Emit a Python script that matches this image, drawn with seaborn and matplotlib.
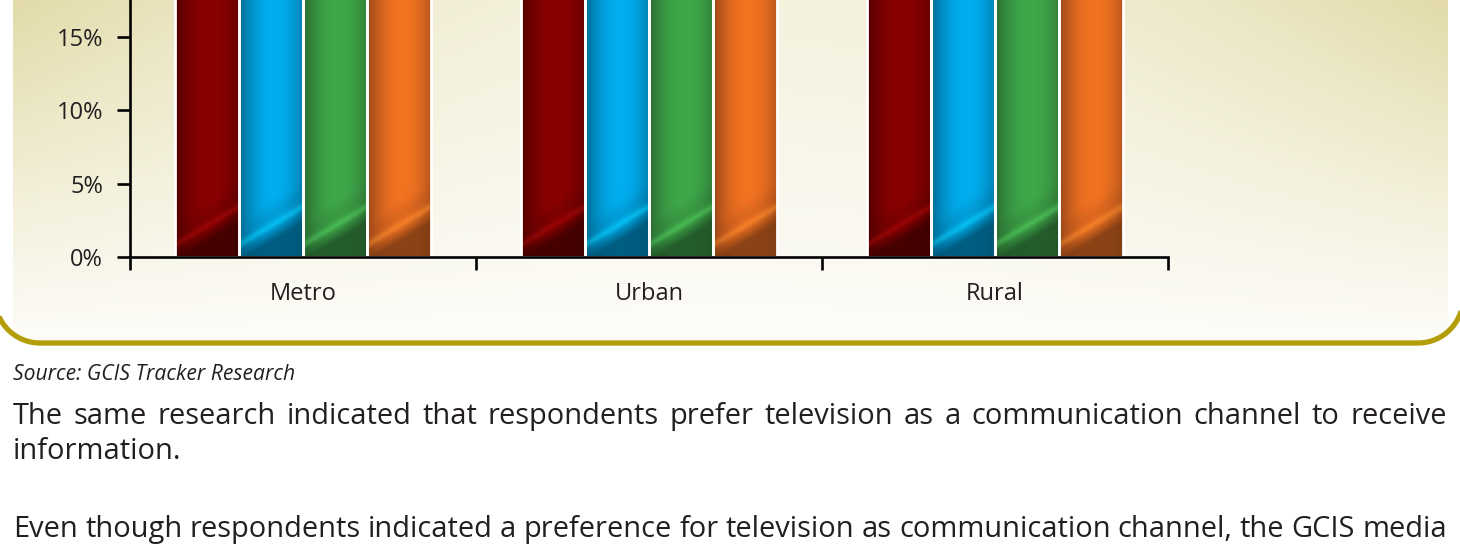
import numpy as np
import pandas as pd
import matplotlib
matplotlib.use("Agg")
import matplotlib.pyplot as plt
import seaborn as sns
from matplotlib.patches import Polygon
from matplotlib.colors import to_rgb

# ---------------- data ----------------
categories = ["Metro", "Urban", "Rural"]
series = ["Series 1", "Series 2", "Series 3", "Series 4"]
series1 = [38.0, 41.0, 44.0]
series2 = [33.0, 35.0, 30.0]
series3 = [27.0, 29.0, 26.0]
series4 = [22.0, 24.0, 21.0]
y_ticks = [0, 5, 10, 15]
source_text = "Source: GCIS Tracker Research"
para_line1 = "The same research indicated that respondents prefer television as a communication channel to receive"
para_line2 = "information."
para_line3 = "Even though respondents indicated a preference for television as communication channel, the GCIS media"

colors_mid = ["#8b0000", "#00aeef", "#3fa94a", "#f37321"]
colors_edge = ["#520000", "#006a93", "#2a6c31", "#9a4719"]
colors_dark = ["#3a0000", "#00506f", "#1f5026", "#7a3a14"]

df = pd.DataFrame({
    "area": categories * 4,
    "series": sum([[s] * 3 for s in series], []),
    "value": series1 + series2 + series3 + series4,
})

sns.set_theme(style="white")
plt.rcParams["font.family"] = ["Open Sans", "DejaVu Sans"]
TXT = "#231f20"

W, H = 1460, 546
fig = plt.figure(figsize=(W / 100, H / 100), dpi=100)

# ---------------- background panel ----------------
bg = fig.add_axes([0, 0, 1, 1], zorder=-10)
bg.axis("off")


def panel_outline(left=-5, right=1463, bottom=343, top=-100, rad=45, n=40):
    pts = [(left, top), (left, bottom - rad)]
    th = np.linspace(np.pi, np.pi / 2, n)
    pts += [(left + rad + rad * np.cos(a), bottom - rad + rad * np.sin(a)) for a in th]
    th = np.linspace(np.pi / 2, 0, n)
    pts += [(right - rad + rad * np.cos(a), bottom - rad + rad * np.sin(a)) for a in th]
    pts += [(right, top)]
    return np.array(pts)


outline = panel_outline()
xs = np.linspace(13, 1448, 300)
ys = np.linspace(-60, 343, 200)
X, Y = np.meshgrid(xs, ys)
v = np.clip(1 - Y / 343.0, 0, 1) ** 1.1
e = ((X - 730) / 717.0) ** 2
wgt = np.clip(v * (0.33 + 0.67 * e), 0, 1)
B = np.array([253, 252, 248]) / 255
O = np.array([226, 219, 168]) / 255
img = B + wgt[..., None] * (O - B)
im = bg.imshow(img, extent=[13, 1448, 343, -60], aspect="auto", interpolation="bilinear")
clip_poly = Polygon(outline, closed=True, facecolor="none", edgecolor="none", transform=bg.transData)
bg.add_patch(clip_poly)
im.set_clip_path(clip_poly)
border = Polygon(outline, closed=True, facecolor="none", edgecolor="#b49e08", linewidth=3.8,
                 joinstyle="round", transform=bg.transData)
bg.add_patch(border)
bg.set_xlim(0, W)
bg.set_ylim(H, 0)

# ---------------- chart ----------------
ax = fig.add_axes([130 / W, (H - 257) / H, 1038 / W, 257 / H])
ax.patch.set_alpha(0)
YTOP = 17.5
sns.barplot(data=df, x="area", y="value", hue="series", order=categories, hue_order=series,
            palette=colors_mid, saturation=1, width=0.74, gap=0, edgecolor="white",
            linewidth=2.0, legend=False, ax=ax, errorbar=None, zorder=3)
ax.set_xlim(-0.5, 2.5)
ax.set_ylim(0, YTOP)

px_per_unit = 257 / YTOP
mids = [np.array(to_rgb(c)) for c in colors_mid]
for p in ax.patches:
    fc = np.array(p.get_facecolor()[:3])
    k = int(np.argmin([np.sum((fc - m) ** 2) for m in mids]))
    cm, ce, cd = mids[k], np.array(to_rgb(colors_edge[k])), np.array(to_rgb(colors_dark[k]))
    x0, wbar, hbar = p.get_x(), p.get_width(), p.get_height()
    top = min(hbar, YTOP)
    N, M = 64, 260
    t = np.linspace(0, 1, N)
    f = np.clip(1 - ((t - 0.55) / 0.55) ** 2, 0, 1)
    row = ce + f[:, None] * (cm - ce)
    yy = np.linspace(0, top, M) * px_per_unit
    xp = t * 62
    XX, YY = np.meshgrid(xp, yy)
    line = 12 + 0.62 * XX
    s = line - YY
    dark = np.clip(s / 16.0, 0, 1)[..., None] * 0.85
    above = np.clip(-s / 30.0, 0, 1)
    band = (np.exp(-((-s - 10) / 10.0) ** 2) * 0.25)[..., None] * (YY < 80)[..., None]
    hl = (np.exp(-(s / 3.5) ** 2) * 0.4)[..., None]
    base = np.broadcast_to(row, (M, N, 3))
    out = base * (1 - dark) + cd * dark
    out = out * (1 - band) + ce * band
    out = out + hl * (np.minimum(cm * 1.2 + 0.05, 1) - out)
    bim = ax.imshow(np.clip(out, 0, 1), extent=[x0, x0 + wbar, 0, top], origin="lower",
                    aspect="auto", interpolation="bilinear", zorder=2)
    bim.set_clip_path(p)
    p.set_facecolor("none")
ax.set_xlim(-0.5, 2.5)
ax.set_ylim(0, YTOP)

sns.despine(ax=ax, top=True, right=True)
for sp in ["left", "bottom"]:
    ax.spines[sp].set_linewidth(1.9)
    ax.spines[sp].set_color("black")
    ax.spines[sp].set_zorder(10)

ax.set_yticks(y_ticks)
ax.set_yticklabels([f"{v}%" for v in y_ticks])
ax.set_xticks(range(len(categories)))
ax.set_xticklabels(categories)
ax.set_xticks([-0.5, 0.5, 1.5, 2.5], minor=True)
ax.tick_params(axis="y", which="major", direction="out", length=9.4, width=1.9, color="black",
               pad=10, labelsize=17, labelcolor=TXT, left=True)
ax.tick_params(axis="x", which="major", length=0, pad=18, labelsize=17, labelcolor=TXT)
ax.tick_params(axis="x", which="minor", direction="out", length=9.4, width=1.9, color="black", bottom=True)
ax.set_xlabel("")
ax.set_ylabel("")

# ---------------- text below ----------------
r = fig.canvas.get_renderer()


def fit_size(s, target, base=20, **kw):
    t = bg.text(0, 0, s, fontsize=base, **kw)
    w = t.get_window_extent(r).width
    t.remove()
    return base * target / w


src_fs = fit_size(source_text, 283, style="italic")
bg.text(13, 380, source_text, fontsize=src_fs, style="italic", color=TXT, va="baseline", ha="left")

para_fs = fit_size(para_line3, 1434)


def justify(line, y, x0=13, x1=1447):
    words = line.split(" ")
    ts = [bg.text(0, y, w_, fontsize=para_fs, color=TXT, va="baseline", ha="left") for w_ in words]
    ws = [t_.get_window_extent(r).width for t_ in ts]
    gap = (x1 - x0 - sum(ws)) / (len(words) - 1)
    x = x0
    for t_, w_ in zip(ts, ws):
        t_.set_x(x)
        x += w_ + gap


justify(para_line1, 424)
bg.text(13, 459, para_line2, fontsize=para_fs, color=TXT, va="baseline", ha="left")
justify(para_line3, 537)

fig.savefig("out.png", dpi=100)
